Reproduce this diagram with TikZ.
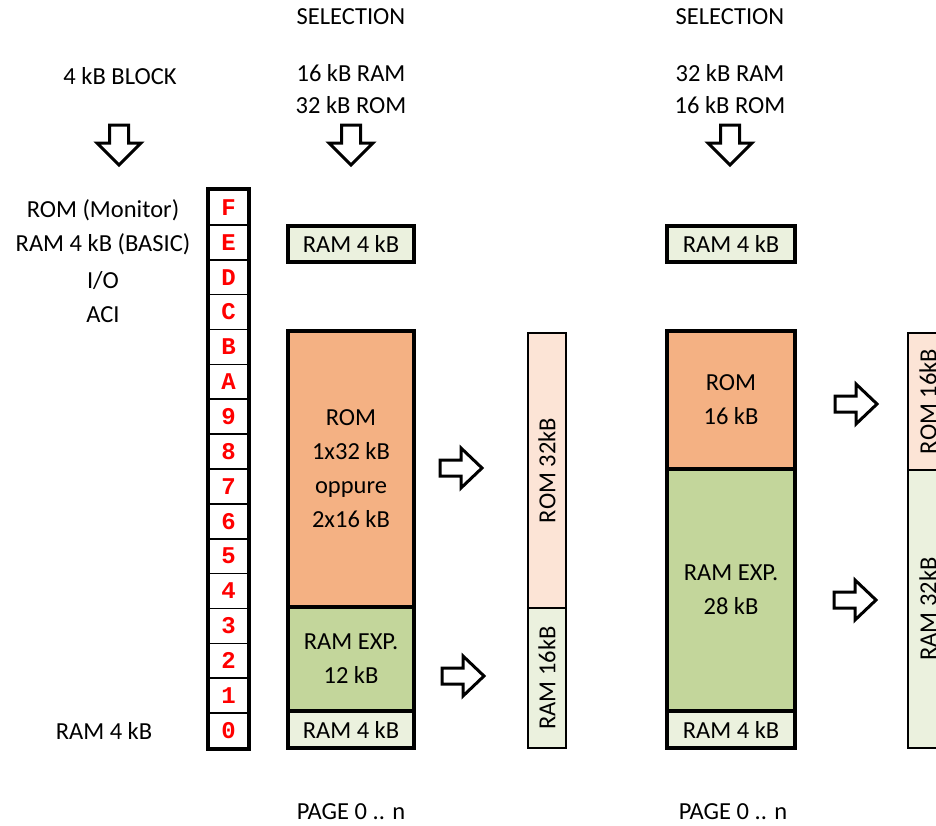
\documentclass[tikz,border=0pt]{standalone}
\usepackage{fontspec}
\setmainfont{Carlito}
\newfontfamily\hexfont{Liberation Mono}
\definecolor{romO}{HTML}{F4B183}
\definecolor{ramG}{HTML}{C3D69B}
\definecolor{ramL}{HTML}{EBF1DE}
\definecolor{romL}{HTML}{FCE4D6}
\definecolor{hexred}{HTML}{FF0000}
\tikzset{
  txt/.style={font=\fontsize{24.5}{34}\selectfont, align=center, inner sep=0pt},
  blk/.style={draw, line width=4pt, rectangle, inner sep=0pt, align=center,
    font=\fontsize{24.5}{34}\selectfont},
  thin/.style={draw, line width=2pt, rectangle, inner sep=0pt},
  hexrow/.style={draw, line width=1.6pt, rectangle, inner sep=0pt,
    minimum width=39pt, minimum height=34.875pt, text=hexred,
    font=\hexfont\bfseries\fontsize{24}{24}\selectfont},
  rarr/.pic={\draw[line width=3pt, fill=white, line join=miter]
    (-21,-8) -- (0,-8) -- (0,-20) -- (21,0) -- (0,20) -- (0,8) -- (-21,8) -- cycle;},
  darr/.pic={\draw[line width=3pt, fill=white, line join=miter]
    (-9.5,-20) -- (9.5,-20) -- (9.5,-2) -- (22,-2) -- (0,20) -- (-22,-2) -- (-9.5,-2) -- cycle;}
}
\begin{document}
\begin{tikzpicture}[x=1pt,y=-1pt]
\useasboundingbox (0,0) rectangle (936,825);
\clip (0,0) rectangle (936,825);

% headings
\node[txt] (sel1) at (351,17) {SELECTION};
\node[txt] (sel2) at (730,17) {SELECTION};
\node[txt] (blk) at (120,76) {4 kB BLOCK};
\node[txt] (s1a) at (351,73) {16 kB RAM};
\node[txt] (s1b) at (351,105) {32 kB ROM};
\node[txt] (s2a) at (730,73) {32 kB RAM};
\node[txt] (s2b) at (730,105) {16 kB ROM};
\node[txt] (pg1) at (351,812) {PAGE 0 .. n};
\node[txt] (pg2) at (733,812) {PAGE 0 .. n};

% left labels
\node[txt] (lF) at (103,210) {ROM (Monitor)};
\node[txt] (lE) at (103,244) {RAM 4 kB (BASIC)};
\node[txt] (lD) at (103,281) {I/O};
\node[txt] (lC) at (103,315) {ACI};
\node[txt] (l0) at (104,731) {RAM 4 kB};

% down arrows
\pic at (119,145) {darr};
\pic at (351,145) {darr};
\pic at (730,145) {darr};

% hex column
\foreach \d [count=\i from 0] in {F,E,D,C,B,A,9,8,7,6,5,4,3,2,1,0} {
  \node[hexrow] (h\d) at (228.5, 190+17.4375+\i*34.875) {\d};
}
\draw[line width=4pt] (hF.north west) rectangle (h0.south east);

% block 1
\node[blk, fill=ramL, minimum width=126pt, minimum height=36pt] (a1) at (351,244) {RAM 4 kB};
\node[blk, fill=romO, minimum width=126pt, minimum height=276pt] (a2) at (351,469) {ROM\\1x32 kB\\oppure\\2x16 kB};
\node[blk, fill=ramG, minimum width=126pt, minimum height=104pt] (a3) at (351,659) {RAM EXP.\\12 kB};
\node[blk, fill=ramL, minimum width=126pt, minimum height=37pt] (a4) at (351,729.5) {RAM 4 kB};

% column 1
\node[thin, fill=romL, minimum width=38pt, minimum height=275pt] (c1) at (547,470.5) {};
\node[thin, fill=ramL, minimum width=38pt, minimum height=140pt] (c2) at (547,678) {};
\node[txt, rotate=90] (c1t) at (c1.center) {ROM 32kB};
\node[txt, rotate=90] (c2t) at (c2.center) {RAM 16kB};

% block 2
\node[blk, fill=ramL, minimum width=128pt, minimum height=36pt] (b1) at (731,244) {RAM 4 kB};
\node[blk, fill=romO, minimum width=128pt, minimum height=138pt] (b2) at (731,400) {ROM\\16 kB};
\node[blk, fill=ramG, minimum width=128pt, minimum height=242pt] (b3) at (731,590) {RAM EXP.\\28 kB};
\node[blk, fill=ramL, minimum width=128pt, minimum height=37pt] (b4) at (731,729.5) {RAM 4 kB};

% column 2 (cut off by the right edge, as in the reference)
\node[thin, fill=romL, minimum width=40pt, minimum height=137pt] (d1) at (928,401.5) {};
\node[thin, fill=ramL, minimum width=40pt, minimum height=278pt] (d2) at (928,609) {};
\node[txt, rotate=90] (d1t) at (d1.center) {ROM 16kB};
\node[txt, rotate=90] (d2t) at (d2.center) {RAM 32kB};

% right arrows
\pic at (461,468) {rarr};
\pic at (463,676) {rarr};
\pic at (856,404) {rarr};
\pic at (855,600) {rarr};
\end{tikzpicture}
\end{document}
